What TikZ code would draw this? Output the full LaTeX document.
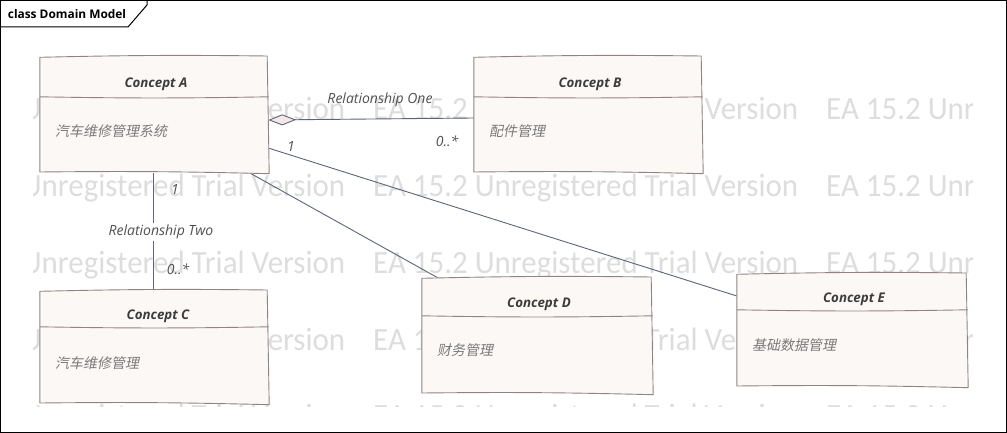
\documentclass[tikz,border=0pt]{standalone}
\usepackage{fontspec}
\usepackage{graphicx}
\usetikzlibrary{arrows.meta,calc}
\newfontfamily\uifont{Open Sans}
\newfontfamily\wmfont{Carlito}
\newfontfamily\cjkfont[FakeSlant=0.2]{Noto Sans CJK SC}
\definecolor{boxedge}{HTML}{8F8483}
\definecolor{boxfill}{HTML}{FCF8F6}
\definecolor{connline}{HTML}{5D6478}
\definecolor{wmgray}{HTML}{DDDDDD}
\definecolor{titlegray}{HTML}{3C3C3C}
\definecolor{bodygray}{HTML}{7A7A7A}
\definecolor{labelgray}{HTML}{505050}
\definecolor{diamfill}{HTML}{F4E8E8}
\tikzset{
  concept/.style={rectangle, draw=none, fill=none, inner sep=0pt},
  boxline/.style={draw=boxedge, fill=boxfill, line width=0.9pt, line join=round},
  hdrline/.style={draw=boxedge, line width=0.9pt},
  ctitle/.style={inner sep=0pt, text=titlegray, font=\uifont\bfseries\itshape\fontsize{13.3}{15}\selectfont},
  cbody/.style={inner sep=0pt, anchor=west, text=bodygray, font=\cjkfont\fontsize{14}{16}\selectfont},
  conn/.style={draw=connline, line width=0.9pt},
  lbl/.style={inner sep=1pt, text=labelgray, font=\uifont\itshape\fontsize{14}{16}\selectfont},
  wm/.style={inner sep=0pt, anchor=base west, text=wmgray},
}
\newcommand\wmtext{\resizebox{425pt}{22.5pt}{\wmfont EA 15.2 Unregistered Trial Version}}
\newcommand\sketchbox[2]{%
  \filldraw[boxline] ($(#1.north west)+(0,0.5)$) to[bend left=1] ($(#1.north east)+(-1,-0.8)$)
    -- ($(#1.south east)+(1,0.5)$) to[bend right=1] ($(#1.south west)+(0,-1.2)$) -- cycle;
  \draw[hdrline] ($(#1.north west)+(0,#2)$) to[bend right=1] ($(#1.north east)+(0.5,#2)$);}
\begin{document}
\begin{tikzpicture}[x=1pt,y=-1pt]
\useasboundingbox (0,0) rectangle (1007,433);
% watermark
\begin{scope}
\clip (33,90) rectangle (972,406);
\foreach \r/\yy in {1/120,2/196.7,3/273.3,4/350,5/426.7}{
  \foreach \c/\xx in {1/-80,2/373,3/826}{
    \node[wm] (wm\r\c) at (\xx,\yy) {\wmtext};
  }
}
\end{scope}
% frame
\draw[black, line width=1pt] (0.5,0.5) rectangle (1006.5,432.5);
\draw[black, line width=1pt] (0.5,27) -- (128,27) -- (147,5) -- (147,0.5);
\node[inner sep=0pt, font=\uifont\bfseries\fontsize{11.9}{13}\selectfont] (frametitle) at (67,14.5) {class Domain Model};
% concept nodes
\node[concept, minimum width=228pt, minimum height=116pt] (A) at (154,115) {};
\node[concept, minimum width=228pt, minimum height=116pt] (B) at (588,115) {};
\node[concept, minimum width=228pt, minimum height=113pt] (C) at (154,347.5) {};
\node[concept, minimum width=230pt, minimum height=116pt] (D) at (537,336) {};
\node[concept, minimum width=230pt, minimum height=113pt] (E) at (852,330.5) {};
% connectors
\draw[conn, {Diamond[fill=diamfill, length=28pt, width=11pt, line width=0.9pt]}-] ([yshift=-5pt]A.east) -- ([yshift=-3pt]B.west);
\draw[conn] ([yshift=-33pt]A.east) -- ([yshift=34.5pt]E.west);
\draw[conn] ($(A.south east)+(-18,0)$) -- ($(D.north west)+(16,0)$);
\draw[conn] ([xshift=-1pt]A.south) -- node[lbl, fill=white, xshift=8pt, inner sep=2pt] (rel2) {Relationship Two} ([xshift=-1pt]C.north);
% boxes
\sketchbox{A}{40}
\sketchbox{B}{40}
\sketchbox{C}{36}
\sketchbox{D}{38}
\sketchbox{E}{36}
\node[ctitle] (At) at ($(A.north)+(2,27)$) {Concept A};
\node[cbody] (Ab) at ($(A.north west)+(15,74)$) {汽车维修管理系统};
\node[ctitle] (Bt) at ($(B.north)+(2,27)$) {Concept B};
\node[cbody] (Bb) at ($(B.north west)+(15,74)$) {配件管理};
\node[ctitle] (Ct) at ($(C.north)+(4,25)$) {Concept C};
\node[cbody] (Cb) at ($(C.north west)+(15,72)$) {汽车维修管理};
\node[ctitle] (Dt) at ($(D.north)+(2,26)$) {Concept D};
\node[cbody] (Db) at ($(D.north west)+(15,72)$) {财务管理};
\node[ctitle] (Et) at ($(E.north)+(2,25)$) {Concept E};
\node[cbody] (Eb) at ($(E.north west)+(15,71)$) {基础数据管理};
% labels
\node[lbl] (rel1) at (380,100) {Relationship One};
\node[lbl] (m1) at (447,141) {0..*};
\node[lbl] (m2) at (291,147) {1};
\node[lbl] (m3) at (175,190) {1};
\node[lbl] (m4) at (178,269) {0..*};
\end{tikzpicture}
\end{document}
